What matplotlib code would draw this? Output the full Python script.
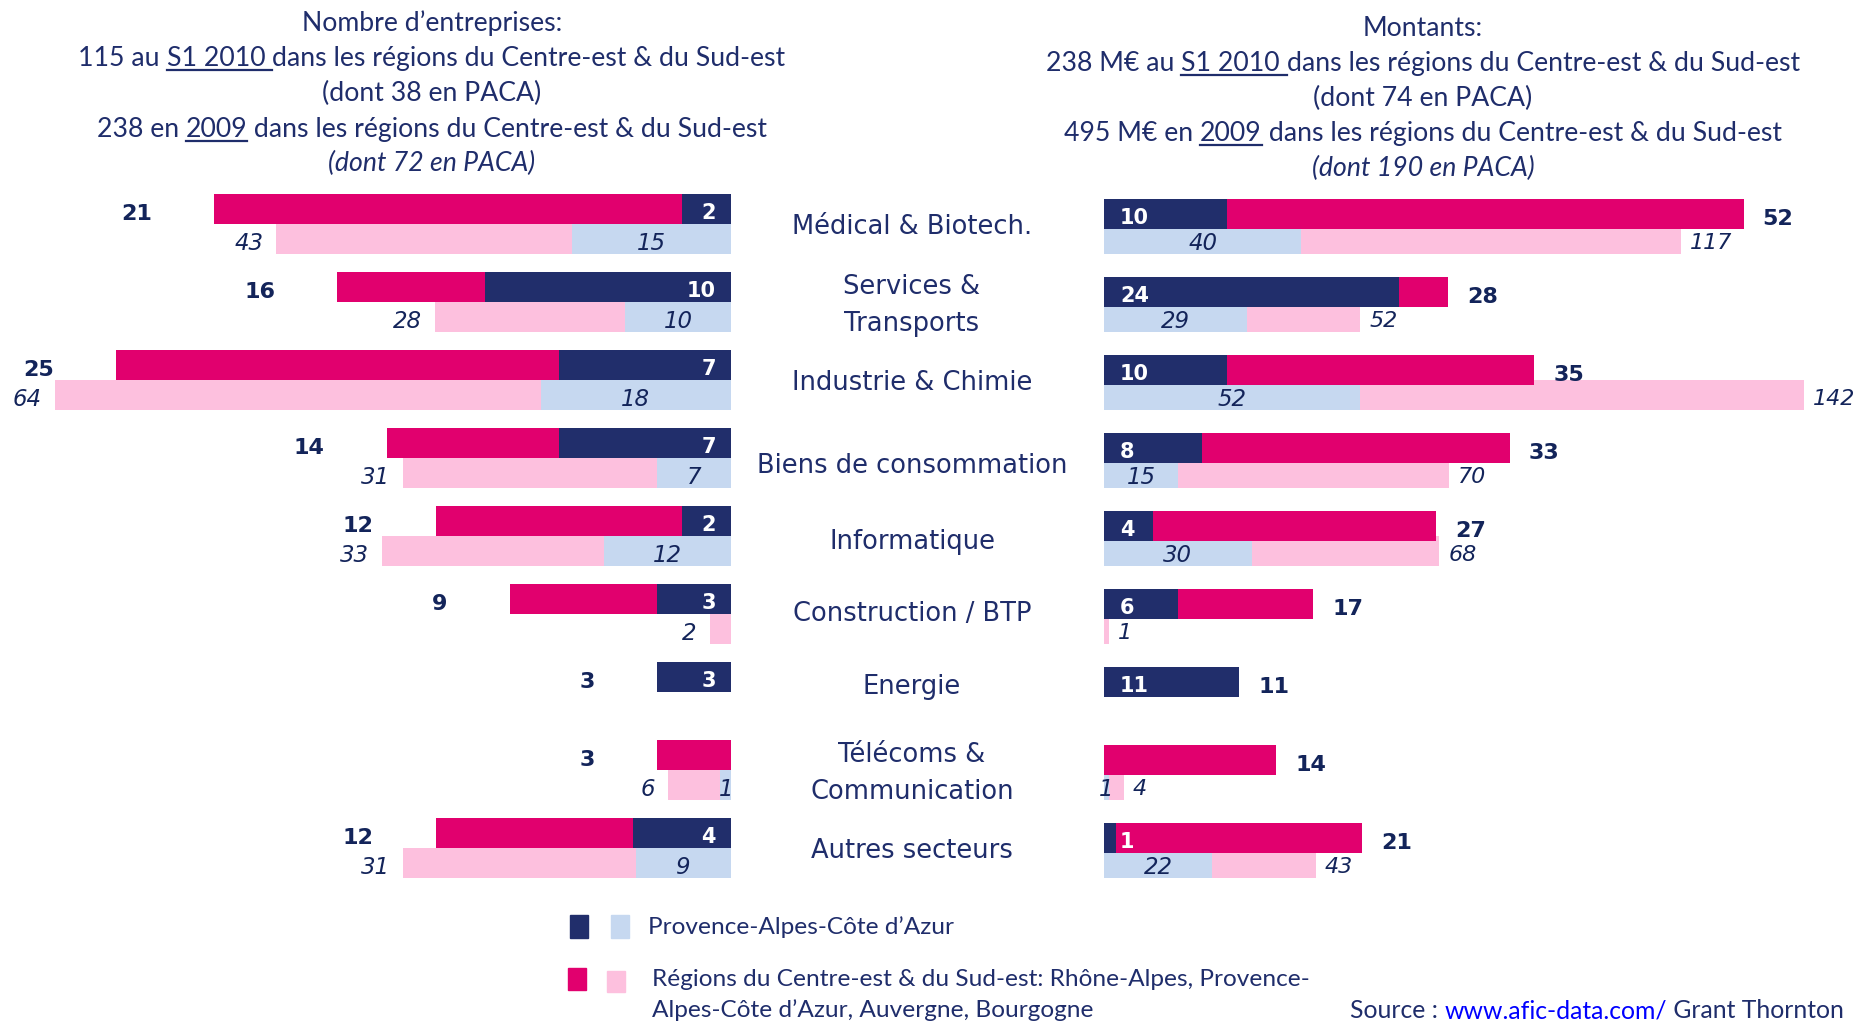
import matplotlib
matplotlib.use('Agg')
import matplotlib.pyplot as plt
from matplotlib.transforms import IdentityTransform
from matplotlib.lines import Line2D
from matplotlib.patches import Rectangle

# data
secteurs = ['Médical & Biotech.', 'Services &\nTransports', 'Industrie & Chimie',
            'Biens de consommation', 'Informatique', 'Construction / BTP',
            'Energie', 'Télécoms &\nCommunication', 'Autres secteurs']

# nombre d'entreprises
nb_s1_total = [21, 16, 25, 14, 12, 9, 3, 3, 12]
nb_s1_paca = [2, 10, 7, 7, 2, 3, 3, 0, 4]
nb_2009_total = [43, 28, 64, 31, 33, 2, 0, 6, 31]
nb_2009_paca = [15, 10, 18, 7, 12, 0, 0, 1, 9]

# montants (M€)
mt_s1_total = [52, 28, 35, 33, 27, 17, 11, 14, 21]
mt_s1_paca = [10, 24, 10, 8, 4, 6, 11, 0, 1]
mt_2009_total = [117, 52, 142, 70, 68, 1, 0, 4, 43]
mt_2009_paca = [40, 29, 52, 15, 30, 0, 0, 1, 22]

# colours
NAVY = '#212E6B'
MAGENTA = '#E1006E'
PINK = '#FDC0DE'
LBLUE = '#C6D8F0'
TXT = '#1F2D6B'
NUM = '#13245A'

W, H = 1859, 1022
fig = plt.figure(figsize=(W / 100, H / 100), dpi=100)
renderer = fig.canvas.get_renderer()
PX = 0.72  # points per pixel at dpi 100

NUMFONT = 'DejaVu Sans'
TITLEFONT = ['Lato', 'DejaVu Sans']

# geometry (pixels)
x_left, x_right = 731, 1104
top_px, bot_px = 185, 887
rows = list(range(len(secteurs)))
h = 0.385
off = 0.19


def add_ax(x0, x1):
    ax = fig.add_axes([x0 / W, (H - bot_px) / H, (x1 - x0) / W, (bot_px - top_px) / H])
    ax.set_ylim(len(secteurs) - 0.5, -0.5)
    ax.axis('off')
    return ax


def lab(ax, x, y, s, dx, ha, color, weight='normal', style='normal', size=16):
    # baseline placed so the digits sit ~2.5 px under the bar centre
    dy = 0.729 * size / PX / 2 + 2.5
    ax.annotate(s, xy=(x, y), xytext=(dx * PX, -dy * PX), textcoords='offset points',
                ha=ha, va='baseline', color=color, fontsize=size,
                fontweight=weight, fontstyle=style, family=NUMFONT)


### left side: nombre d'entreprises
ax_l09 = add_ax(0, x_left)
ax_l09.set_xlim(x_left / 10.57, 0)
ax_l = ax_l09.twiny()
ax_l.set_xlim(x_left / 24.6, 0)
ax_l.axis('off')

y_top = [r - off for r in rows]
y_bot = [r + off for r in rows]

ax_l09.barh(y_bot, nb_2009_total, height=h, color=PINK)
ax_l09.barh(y_bot, nb_2009_paca, height=h, color=LBLUE)
ax_l.barh(y_top, nb_s1_total, height=h, color=MAGENTA)
ax_l.barh(y_top, nb_s1_paca, height=h, color=NAVY)

for i in rows:
    if nb_s1_total[i]:
        lab(ax_l, nb_s1_total[i], y_top[i], str(nb_s1_total[i]), -62, 'right', NUM, weight='bold')
    if nb_s1_paca[i]:
        lab(ax_l, 0, y_top[i], str(nb_s1_paca[i]), -15, 'right', 'white', weight='bold', size=15)
    if nb_2009_total[i]:
        lab(ax_l09, nb_2009_total[i], y_bot[i], str(nb_2009_total[i]), -13, 'right', NUM,
            style='italic', size=16.5)
    if nb_2009_paca[i]:
        lab(ax_l09, nb_2009_paca[i] / 2, y_bot[i], str(nb_2009_paca[i]), 0, 'center', NUM,
            style='italic', size=16.5)

### right side: montants
shift = 5 / 78  # top bars sit a little lower on this side
ax_r09 = add_ax(x_right, W)
ax_r09.set_xlim(0, (W - x_right) / 4.93)
ax_r = ax_r09.twiny()
ax_r.set_xlim(0, (W - x_right) / 12.3)
ax_r.axis('off')

y_top_r = [r - off + shift for r in rows]

ax_r09.barh(y_bot, mt_2009_total, height=h, color=PINK)
ax_r09.barh(y_bot, mt_2009_paca, height=h, color=LBLUE)
ax_r.barh(y_top_r, mt_s1_total, height=h, color=MAGENTA)
ax_r.barh(y_top_r, mt_s1_paca, height=h, color=NAVY)

for i in rows:
    if mt_s1_total[i]:
        lab(ax_r, mt_s1_total[i], y_top_r[i], str(mt_s1_total[i]), 19, 'left', NUM, weight='bold')
    if mt_s1_paca[i]:
        lab(ax_r, 0, y_top_r[i], str(mt_s1_paca[i]), 16, 'left', 'white', weight='bold', size=15)
    if mt_2009_total[i]:
        lab(ax_r09, mt_2009_total[i], y_bot[i], str(mt_2009_total[i]), 9, 'left', NUM,
            style='italic', size=16)
    if mt_2009_paca[i]:
        lab(ax_r09, mt_2009_paca[i] / 2, y_bot[i], str(mt_2009_paca[i]), 0, 'center', NUM,
            style='italic', size=16.5)

# sector names in the middle (small vertical nudges, in px)
nudge = {3: 5, 4: 3, 5: -3, 6: -8}
for i in rows:
    yc = 224 + 78 * i + 3 + nudge.get(i, 0)
    fig.text(912, H - yc, secteurs[i], transform=IdentityTransform(),
             ha='center', va='center', color=TXT, fontsize=18.5,
             family='DejaVu Sans', linespacing=1.55)


### titles, legend, source (text pieces laid out in pixels)
def text_w(s, **kw):
    t = fig.text(0, 0, '|' + s + '|', **kw)
    w = t.get_window_extent(renderer).width
    t.set_text('||')
    w -= t.get_window_extent(renderer).width
    t.remove()
    return w


def line(x, base, pieces, align='left', size=19.2, color=TXT, style='normal'):
    kw = dict(fontsize=size, family=TITLEFONT, fontstyle=style)
    widths = [text_w(p[0], **kw) for p in pieces]
    if align == 'center':
        x -= sum(widths) / 2
    elif align == 'right':
        x -= sum(widths)
    yb = H - base
    for p, w in zip(pieces, widths):
        c = p[1] if len(p) > 1 and p[1] else color
        fig.text(x, yb, p[0], transform=IdentityTransform(), ha='left', va='baseline',
                 color=c, **kw)
        if len(p) > 2 and p[2]:
            fig.add_artist(Line2D([x, x + w], [yb - 4, yb - 4], transform=IdentityTransform(),
                                  color=c, lw=1.6))
        x += w


cx = 432
line(cx, 31, [('Nombre d’entreprises:',)], 'center')
line(cx, 66, [('115 au ',), ('S1 2010 ', None, True), ('dans les régions du Centre-est & du Sud-est',)], 'center')
line(cx, 101, [('(dont 38 en PACA)',)], 'center')
line(cx, 137, [('238 en ',), ('2009', None, True), (' dans les régions du Centre-est & du Sud-est',)], 'center')
line(cx, 171, [('(dont 72 en PACA)',)], 'center', style='italic')

cx = 1423
line(cx, 36, [('Montants:',)], 'center')
line(cx, 71, [('238 M€ au ',), ('S1 2010 ', None, True), ('dans les régions du Centre-est & du Sud-est',)], 'center')
line(cx, 106, [('(dont 74 en PACA)',)], 'center')
line(cx, 141, [('495 M€ en ',), ('2009', None, True), (' dans les régions du Centre-est & du Sud-est',)], 'center')
line(cx, 176, [('(dont 190 en PACA)',)], 'center', style='italic')

# legend squares
for x0, top, w, hh, c in [(570, 915, 18, 23, NAVY), (611, 915, 18, 23, LBLUE),
                          (568, 968, 18, 22, MAGENTA), (607, 971, 18, 21, PINK)]:
    fig.add_artist(Rectangle((x0, H - top - hh), w, hh, transform=IdentityTransform(), color=c))

line(648, 934, [('Provence-Alpes-Côte d’Azur',)], size=17.6)
line(652, 986, [('Régions du Centre-est & du Sud-est: Rhône-Alpes, Provence-',)], size=17.6)
line(652, 1017, [('Alpes-Côte d’Azur, Auvergne, Bourgogne',)], size=17.6)

line(1844, 1018, [('Source : ',), ('www.afic-data.com/', '#0000FF'), (' Grant Thornton',)], 'right', size=17.8)

fig.savefig('out.png', dpi=100)
